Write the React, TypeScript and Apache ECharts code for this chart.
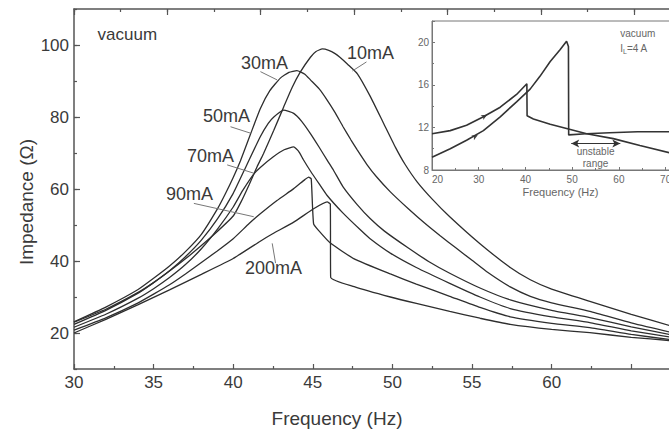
import React, { useEffect, useRef } from "react";
import * as echarts from "echarts";

const FONT = "'Liberation Sans', Arial, Helvetica, sans-serif";

// ---- main plot data: [frequency (Hz), impedance (Ω)] ----
const curveNames = ["10mA", "30mA", "50mA", "70mA", "90mA", "200mA"];

const curve10mA = [
  [30, 23.0], [32, 26.6], [34, 31.2], [35, 34.0], [36, 37.2], [37, 40.6], [38, 44.3], [39, 48.2],
  [40, 52.5], [40.5, 56.5], [41, 61.2], [41.5, 66.2], [41.9, 69.8], [42.55, 76.3], [43.17, 82.8],
  [43.7, 88.2], [44.2, 92.4], [44.85, 96.6], [45.2, 98.2], [45.6, 98.9], [46.0, 98.5], [46.4, 97.6],
  [46.7, 96.6], [47.2, 94.6], [47.8, 92.0], [48.6, 85.8], [49.45, 78.2], [50.2, 71.5], [50.8, 66.8],
  [51.55, 62.0], [52.5, 57.2], [53.6, 52.3], [55.5, 44.8], [57.4, 38.2], [58.66, 34.8], [60, 32.2],
  [62.4, 28.8], [65, 25.2], [67.4, 22.1], [68, 21.5],
];
const curve30mA = [
  [30, 23.1], [32, 27.2], [34, 32.0], [35, 35.2], [36, 38.6], [37, 42.6], [38, 47.4], [39, 54.4],
  [39.5, 58.6], [40, 63.2], [40.45, 67.8], [41.1, 75.4], [41.7, 82.3], [42.3, 87.3], [42.96, 90.8],
  [43.5, 92.4], [44.0, 92.9], [44.5, 91.9], [44.85, 90.3], [45.4, 87.8], [45.9, 84.7], [46.4, 81.2],
  [46.9, 77.3], [47.4, 73.6], [47.8, 70.8], [48.4, 66.8], [49, 63.4], [49.87, 59.2], [51, 54.5],
  [52, 50.6], [53, 47.0], [54, 43.6], [55, 40.2], [56, 36.8], [57.4, 32.8], [58.66, 30.2], [60, 28.4],
  [62.4, 26.0], [65, 22.8], [67.4, 20.3], [68, 19.8],
];
const curve50mA = [
  [30, 22.4], [32, 26.3], [34, 31.0], [35, 34.0], [36, 37.3], [37, 41.2], [38, 45.8], [39, 51.6],
  [40, 58.8], [40.8, 66.2], [41.7, 74.5], [42.2, 78.2], [42.55, 80.0], [43.17, 81.9], [43.8, 81.0],
  [44.3, 78.8], [44.85, 75.4], [45.4, 71.6], [45.9, 68.0], [46.3, 65.2], [46.9, 60.6], [47.8, 55.6],
  [48.6, 51.8], [49.5, 48.3], [51, 43.6], [52.3, 39.8], [53.6, 36.6], [55.5, 32.5], [57.4, 29.2],
  [60, 26.3], [62.4, 24.3], [65, 21.7], [67.4, 19.6], [68, 19.2],
];
const curve70mA = [
  [30, 21.6], [32, 25.2], [34, 29.6], [35, 32.3], [36, 35.4], [37, 39.0], [38, 43.4], [39, 48.8],
  [40, 55.0], [40.6, 59.6], [41.3, 64.2], [41.7, 66.0], [42.5, 68.9], [43.2, 70.9], [43.8, 71.7],
  [44.1, 70.5], [44.4, 68.2], [44.85, 65.0], [45.4, 61.4], [45.9, 58.2], [46.9, 53.3], [48, 48.6],
  [48.6, 46.2], [49.87, 42.2], [51.5, 38.2], [53.6, 33.8], [55.5, 30.0], [57.4, 26.8], [60, 24.5],
  [62.4, 22.9], [65, 20.6], [67.4, 18.9], [68, 18.6],
];
const curve90mA = [
  [30, 20.8], [32, 24.2], [34, 28.3], [35, 30.8], [36, 33.4], [37, 36.4], [38, 39.6], [39, 42.8],
  [40, 46.2], [41, 50.4], [41.7, 53.1], [42.75, 56.8], [43.8, 60.1], [44.5, 62.6], [44.74, 63.3],
  [44.9, 62.8], [45.05, 50.3], [45.4, 48.3], [46.1, 45.0], [47.6, 40.6], [49.87, 36.4], [51.5, 33.6],
  [53.6, 30.2], [55.5, 27.1], [57.4, 24.5], [60, 22.7], [62.4, 21.5], [65, 19.6], [67.4, 18.2], [68, 17.9],
];
const curve200mA = [
  [30, 20.0], [32, 23.8], [34, 27.8], [35, 29.9], [36, 32.0], [38, 36.3], [40, 40.7], [41.7, 45.5],
  [42.45, 47.5], [43.8, 50.8], [45.05, 54.5], [45.9, 56.4], [46.1, 55.8], [46.12, 35.5], [47.6, 32.9],
  [49.87, 30.0], [51.5, 28.2], [53.6, 26.0], [55.5, 24.1], [57.4, 22.4], [60, 21.0], [62.4, 20.1],
  [65, 18.8], [67.4, 17.9], [68, 17.6],
];
const mainCurves = [curve10mA, curve30mA, curve50mA, curve70mA, curve90mA, curve200mA];

// ---- inset data (vacuum, I_L = 4 A): [frequency (Hz), impedance] ----
const insetUpper = [
  [20, 11.4], [23.9, 11.7], [27.4, 12.2], [31.0, 13.0], [34.6, 13.9], [38.1, 15.1], [40.3, 16.1],
  [40.35, 13.1], [41.7, 12.8], [45.3, 12.3], [48.8, 11.9], [53.1, 11.4], [58.8, 10.95], [64.5, 10.3],
  [71, 9.6],
];
const insetLower = [
  [20, 9.2], [23.9, 10.0], [27.4, 10.8], [31.0, 11.7], [34.6, 13.0], [38.1, 14.4], [41.0, 15.6],
  [43.1, 16.8], [45.3, 18.2], [47.4, 19.3], [48.8, 20.1], [49.2, 19.6], [49.25, 11.3], [53, 11.4],
  [58, 11.5], [64, 11.6], [71, 11.6],
];
const unstableRange = [49.8, 60.3];

// ---- annotation anchors (data coordinates) ----
const labelAnchors = [[48.62, 97.8], [41.97, 95.0], [39.58, 80.3], [38.57, 69.2], [37.25, 58.6], [42.53, 38.1]];
const leaderStart = [[48.37, 95.3], [41.71, 92.6], [39.83, 77.3], [39.62, 66.7], [37.53, 56.0], [42.45, 44.9]];
const leaderEnd = [[47.49, 92.8], [42.76, 90.3], [41.09, 75.5], [41.29, 64.4], [41.29, 52.3], [42.66, 39.4]];

export default function App() {
  const ref = useRef<HTMLDivElement>(null);

  useEffect(() => {
    const chart = echarts.init(ref.current!, null, { renderer: "svg" });
    const axisColor = "#555";
    const textColor = "#3a3a3a";
    const lineCol = "#2e2e2e";
    const axisLine = { show: true, onZero: false, lineStyle: { color: axisColor, width: 1.5 } };

    const option: any = {
      animation: false,
      backgroundColor: "#fff",
      grid: [
        { left: 74, top: 9, width: 605, height: 360, show: false, outerBoundsMode: "none", containLabel: false },
        { left: 432, top: 21, width: 257, height: 149, show: true, backgroundColor: "#fff", borderColor: "#777", borderWidth: 1, outerBoundsMode: "none", containLabel: false },
      ],
      xAxis: [
        {
          gridIndex: 0, type: "value", min: 30, max: 68, interval: 5, position: "bottom",
          axisLine,
          axisTick: { show: true, inside: true, length: 5, lineStyle: { color: axisColor, width: 1.2 } },
          minorTick: { show: true, splitNumber: 2, length: 3, lineStyle: { color: axisColor, width: 1.2 } },
          axisLabel: {
            margin: 5, fontSize: 17, color: textColor, fontFamily: FONT,
            formatter: (v: number) => (v % 5 === 0 && v <= 60 ? String(v) : ""),
          },
          splitLine: { show: false }, minorSplitLine: { show: false },
        },
        {
          gridIndex: 0, type: "value", min: 0, max: 12.96, interval: 1, position: "top",
          axisLine,
          axisTick: { show: true, inside: true, length: 3, lineStyle: { color: axisColor, width: 1.2 } },
          axisLabel: { show: false }, splitLine: { show: false },
        },
        {
          gridIndex: 0, type: "value", min: 0, max: 12.96, interval: 2, position: "top",
          axisLine: { show: false },
          axisTick: { show: true, inside: true, length: 6, lineStyle: { color: axisColor, width: 1.2 } },
          axisLabel: { show: false }, splitLine: { show: false },
        },
        {
          gridIndex: 1, type: "value", min: 20, max: 75, interval: 10, position: "bottom",
          axisLine: { show: true, onZero: false, lineStyle: { color: "#777", width: 1 } },
          axisTick: { show: true, inside: true, length: 3, lineStyle: { color: "#777" } },
          minorTick: { show: true, splitNumber: 2, length: 2, lineStyle: { color: "#777" } },
          axisLabel: {
            margin: 4, fontSize: 10, color: "#666", fontFamily: FONT, alignMinLabel: "left",
            formatter: (v: number) => (v % 10 === 0 ? String(v) : ""),
          },
          name: "Frequency (Hz)", nameLocation: "middle", nameGap: 16,
          nameTextStyle: { fontSize: 11, color: "#666", fontFamily: FONT },
          splitLine: { show: false }, minorSplitLine: { show: false },
        },
      ],
      yAxis: [
        {
          gridIndex: 0, type: "value", min: 10, max: 110, interval: 10, position: "left",
          axisLine,
          axisTick: { show: true, inside: true, length: 3, lineStyle: { color: axisColor, width: 1.2 } },
          axisLabel: {
            margin: 5, fontSize: 17, color: textColor, fontFamily: FONT,
            formatter: (v: number) => (v % 20 === 0 && v >= 20 && v <= 100 ? String(v) : ""),
          },
          splitLine: { show: false },
        },
        {
          gridIndex: 0, type: "value", min: 10, max: 110, interval: 10, position: "left",
          axisLine: { show: false },
          axisTick: { show: true, inside: true, length: 6, customValues: [20, 40, 60, 80, 100], lineStyle: { color: axisColor, width: 1.2 } },
          axisLabel: { show: false }, splitLine: { show: false },
        },
        {
          gridIndex: 1, type: "value", min: 8, max: 22, interval: 4, position: "left",
          axisLine: { show: true, onZero: false, lineStyle: { color: "#777", width: 1 } },
          axisTick: { show: true, inside: true, length: 3, lineStyle: { color: "#777" } },
          minorTick: { show: true, splitNumber: 2, length: 2, lineStyle: { color: "#777" } },
          axisLabel: {
            margin: 3, fontSize: 10, color: "#666", fontFamily: FONT,
            formatter: (v: number) => (v <= 20 ? String(v) : ""),
          },
          splitLine: { show: false }, minorSplitLine: { show: false },
        },
      ],
      series: [
        ...mainCurves.map((d, i) => ({
          name: curveNames[i], type: "line", xAxisIndex: 0, yAxisIndex: 0, data: d,
          showSymbol: false, symbol: "none", clip: true, z: 3,
          smooth: 0.15,
          lineStyle: { color: lineCol, width: 1.3 },
        })),
        {
          name: "inset-upper", type: "line", xAxisIndex: 3, yAxisIndex: 2, data: insetUpper,
          showSymbol: false, symbol: "none", clip: true, z: 6,
          lineStyle: { color: "#333", width: 1.6 },
          markPoint: {
            silent: true, symbol: "arrow", symbolSize: [4, 6], symbolRotate: -60,
            itemStyle: { color: "#444" }, label: { show: false },
            data: [{ coord: [31.8, 13.2] }],
          },
        },
        {
          name: "inset-lower", type: "line", xAxisIndex: 3, yAxisIndex: 2, data: insetLower,
          showSymbol: false, symbol: "none", clip: true, z: 6,
          lineStyle: { color: "#333", width: 1.6 },
          markPoint: {
            silent: true, symbol: "arrow", symbolSize: [4, 6], symbolRotate: -60,
            itemStyle: { color: "#444" }, label: { show: false },
            data: [{ coord: [29.8, 11.3] }],
          },
          markLine: {
            silent: true, symbol: ["arrow", "arrow"], symbolSize: [6, 8],
            lineStyle: { color: "#333", width: 1, type: "solid" }, label: { show: false },
            data: [[{ coord: [unstableRange[0], 10.5] }, { coord: [unstableRange[1], 10.5] }]],
          },
        },
      ],
    };
    chart.setOption(option);

    const mainPx = (p: number[]) => chart.convertToPixel({ xAxisIndex: 0, yAxisIndex: 0 }, p) as number[];
    const insetPx = (p: number[]) => chart.convertToPixel({ xAxisIndex: 3, yAxisIndex: 2 }, p) as number[];

    const txt = (x: number, y: number, text: string, size: number, color: string, align = "center") => ({
      type: "text", x, y, z: 20,
      style: {
        text, fontSize: size, fontFamily: FONT, fill: color,
        align, verticalAlign: "middle", textAlign: align, textVerticalAlign: "middle",
      },
    });

    const graphics: any[] = [];
    curveNames.forEach((name, i) => {
      const [lx, ly] = mainPx(labelAnchors[i]);
      graphics.push(txt(lx, ly, name, 18, textColor));
      const [x1, y1] = mainPx(leaderStart[i]);
      const [x2, y2] = mainPx(leaderEnd[i]);
      graphics.push({ type: "line", z: 20, shape: { x1, y1, x2, y2 }, style: { stroke: "#777", lineWidth: 1 } });
    });
    const [vx, vy] = mainPx([31.48, 102.8]);
    graphics.push(txt(vx, vy, "vacuum", 17, textColor, "left"));

    const [ix, iy] = insetPx([60.3, 20.8]);
    graphics.push(txt(ix, iy, "vacuum", 10, "#666", "left"));
    const [jx, jy] = insetPx([60.3, 19.4]);
    graphics.push({
      type: "text", x: jx, y: jy, z: 20,
      style: {
        text: "{a|I}{b|L}{a|=4 A}", fontFamily: FONT, fill: "#666",
        align: "left", verticalAlign: "middle", textAlign: "left", textVerticalAlign: "middle",
        rich: { a: { fontSize: 10, fill: "#666", color: "#666", fontFamily: FONT }, b: { fontSize: 7, fill: "#666", color: "#666", fontFamily: FONT, padding: [5, 0, 0, 0] } },
      },
    });
    const [ux, uy] = insetPx([55.0, 9.7]);
    graphics.push(txt(ux, uy, "unstable", 10, "#666"));
    const [rx, ry] = insetPx([55.0, 8.6]);
    graphics.push(txt(rx, ry, "range", 10, "#666"));

    // axis titles
    graphics.push(txt(337, 418, "Frequency (Hz)", 19, textColor));
    graphics.push({
      type: "text", x: 26, y: 202, rotation: Math.PI / 2, z: 20,
      style: {
        text: "Impedance (Ω)", fontSize: 19, fontFamily: FONT, fill: textColor,
        align: "center", verticalAlign: "middle", textAlign: "center", textVerticalAlign: "middle",
      },
    });

    chart.setOption({ graphic: graphics });

    return () => chart.dispose();
  }, []);

  return (
    <div
      ref={ref}
      style={{ position: "fixed", left: 0, top: 0, width: 669, height: 429, background: "#fff" }}
    />
  );
}
